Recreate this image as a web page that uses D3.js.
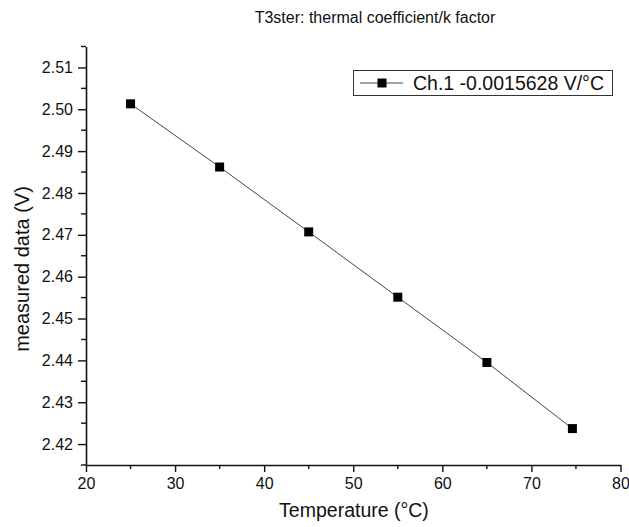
<!DOCTYPE html>
<html>
<head>
<meta charset="utf-8">
<script src="https://cdn.jsdelivr.net/npm/d3@7/dist/d3.min.js"></script>
<style>
  html, body { margin: 0; padding: 0; background: #fff; }
  svg { display: block; }
  text { font-family: "Liberation Sans", Arial, sans-serif; fill: #111; }
</style>
</head>
<body>
<svg id="chart" width="629" height="527"></svg>
<script>
const temperatures = [25, 35, 45, 55, 65, 74.6];
const voltages = [2.5013, 2.4862, 2.4707, 2.4551, 2.4395, 2.4237];
const xTicks = [20, 30, 40, 50, 60, 70, 80];
const yTicks = [2.42, 2.43, 2.44, 2.45, 2.46, 2.47, 2.48, 2.49, 2.50, 2.51];
const titleText = "T3ster: thermal coefficient/k factor";
const xLabel = "Temperature (°C)";
const yLabel = "measured data (V)";
const legendLabel = "Ch.1 -0.0015628 V/°C";

const svg = d3.select("#chart");
const mLeft = 86, mRight = 620.5, mTop = 46.5, mBottom = 465;

const x = d3.scaleLinear().domain([20, 80]).range([mLeft, mRight]);
const y = d3.scaleLinear().domain([2.415, 2.515]).range([mBottom, mTop]);

const data = temperatures.map((t, i) => ({t, v: voltages[i]}));

const xMinor = d3.range(25, 80, 10);
const yMinor = d3.range(0, 11).map(i => 2.415 + i * 0.01);

const gx = svg.append("g").attr("transform", `translate(0,${mBottom})`);
gx.call(d3.axisBottom(x).tickValues(xTicks).tickFormat(d3.format("d")).tickSize(7).tickSizeOuter(0))
  .call(g => g.select(".domain").attr("stroke", "#111").attr("stroke-width", 1.6))
  .call(g => g.selectAll(".tick line").attr("stroke", "#111").attr("stroke-width", 1.4))
  .call(g => g.selectAll(".tick text").attr("font-size", 16).attr("dy", "0.85em").attr("fill", "#111")
    .style("font-family", '"Liberation Sans", Arial, sans-serif'));
gx.selectAll(".minor").data(xMinor).join("line")
  .attr("x1", d => x(d)).attr("x2", d => x(d)).attr("y1", 0).attr("y2", 4)
  .attr("stroke", "#111").attr("stroke-width", 1.4);

const gy = svg.append("g").attr("transform", `translate(${mLeft},0)`);
gy.call(d3.axisLeft(y).tickValues(yTicks).tickFormat(d3.format(".2f")).tickSize(8).tickSizeOuter(0))
  .call(g => g.select(".domain").attr("stroke", "#111").attr("stroke-width", 1.6))
  .call(g => g.selectAll(".tick line").attr("stroke", "#111").attr("stroke-width", 1.4))
  .call(g => g.selectAll(".tick text").attr("font-size", 16).attr("x", -13).attr("fill", "#111")
    .style("font-family", '"Liberation Sans", Arial, sans-serif'));
gy.selectAll(".minor").data(yMinor).join("line")
  .attr("x1", -5).attr("x2", 0).attr("y1", d => y(d)).attr("y2", d => y(d))
  .attr("stroke", "#111").attr("stroke-width", 1.4);

svg.append("path").datum(data)
  .attr("fill", "none").attr("stroke", "#444").attr("stroke-width", 1)
  .attr("d", d3.line().x(d => x(d.t)).y(d => y(d.v)));

svg.selectAll(".pt").data(data).join("rect")
  .attr("x", d => x(d.t) - 4.5).attr("y", d => y(d.v) - 4.5)
  .attr("width", 9).attr("height", 9).attr("fill", "#000");

svg.append("text").attr("x", 375).attr("y", 23).attr("text-anchor", "middle")
  .attr("font-size", 16).text(titleText);

svg.append("text").attr("x", 354).attr("y", 517).attr("text-anchor", "middle")
  .attr("font-size", 19.5).text(xLabel);
svg.append("text").attr("transform", `translate(29,269) rotate(-90)`)
  .attr("text-anchor", "middle").attr("font-size", 20).text(yLabel);

const lg = svg.append("g");
lg.append("rect").attr("x", 353.5).attr("y", 70.5).attr("width", 259).attr("height", 25)
  .attr("fill", "#fff").attr("stroke", "#333").attr("stroke-width", 1);
lg.append("line").attr("x1", 360).attr("x2", 403).attr("y1", 83).attr("y2", 83)
  .attr("stroke", "#444").attr("stroke-width", 1);
lg.append("rect").attr("x", 377.5).attr("y", 78.5).attr("width", 9).attr("height", 9).attr("fill", "#000");
lg.append("text").attr("x", 413).attr("y", 90).attr("font-size", 19.5).text(legendLabel);
</script>
</body>
</html>
